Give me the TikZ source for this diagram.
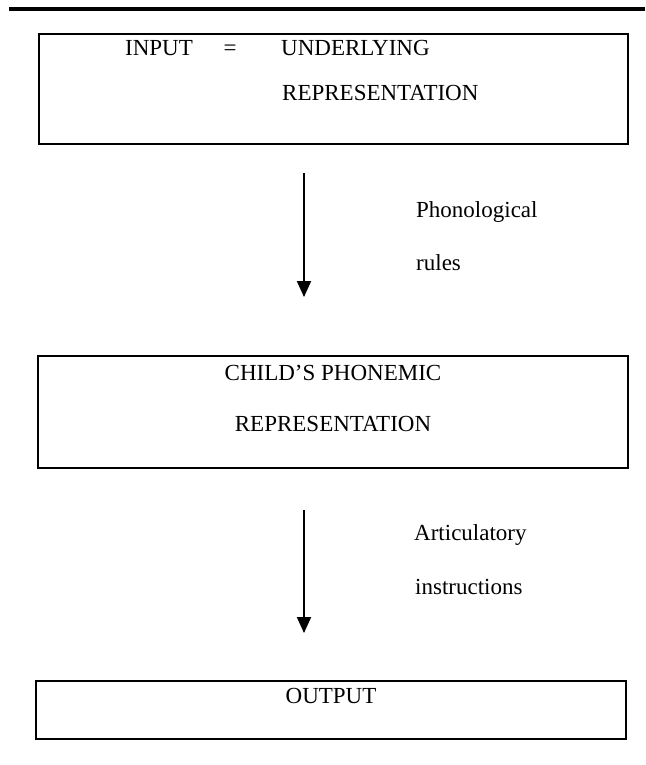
\documentclass[tikz,border=0pt]{standalone}
\usepackage{fontspec}
\setmainfont{Liberation Serif}
\usetikzlibrary{arrows.meta}
\begin{document}
\begin{tikzpicture}[x=1pt,y=-1pt,
  boxrect/.style={draw=black,line width=2pt,inner sep=0pt},
  lbl/.style={inner sep=0pt,font=\fontsize{23}{27}\selectfont},
  flowarrow/.style={line width=2pt,-{Triangle[width=14pt,length=16pt]}},
  toprule/.style={line width=4pt}]
\useasboundingbox (0,0) rectangle (645,765);
% top rule
\coordinate (ruleL) at (9,9.5);
\coordinate (ruleR) at (645,9.5);
\draw[toprule] (ruleL) -- (ruleR);
% box 1
\node[boxrect,minimum width=589pt,minimum height=110pt] (box1) at (333.5,89) {};
\node[lbl,anchor=base] (input) at (159,56) {INPUT};
\node[lbl,anchor=base] (eq) at (230,56) {=};
\node[lbl,anchor=base west] (under) at (281,56) {UNDERLYING};
\node[lbl,anchor=base west] (rep1) at (282,101) {REPRESENTATION};
% arrow 1
\coordinate (a1top) at (304,173);
\coordinate (a1tip) at (304,297);
\draw[flowarrow] (a1top) -- (a1tip);
\node[lbl,anchor=base west] (phon) at (416,217) {Phonological};
\node[lbl,anchor=base west] (rules) at (416,270) {rules};
% box 2
\node[boxrect,minimum width=590pt,minimum height=112pt] (box2) at (333,412) {};
\node[lbl,anchor=base] (child) at (333,380) {CHILD'S PHONEMIC};
\node[lbl,anchor=base] (rep2) at (333,431) {REPRESENTATION};
% arrow 2
\coordinate (a2top) at (304,510);
\coordinate (a2tip) at (304,633);
\draw[flowarrow] (a2top) -- (a2tip);
\node[lbl,anchor=base west] (artic) at (414,540) {Articulatory};
\node[lbl,anchor=base west] (instr) at (415,594) {instructions};
% box 3
\node[boxrect,minimum width=590pt,minimum height=58pt] (box3) at (331,710) {};
\node[lbl,anchor=base] (output) at (331,703) {OUTPUT};
\end{tikzpicture}
\end{document}
